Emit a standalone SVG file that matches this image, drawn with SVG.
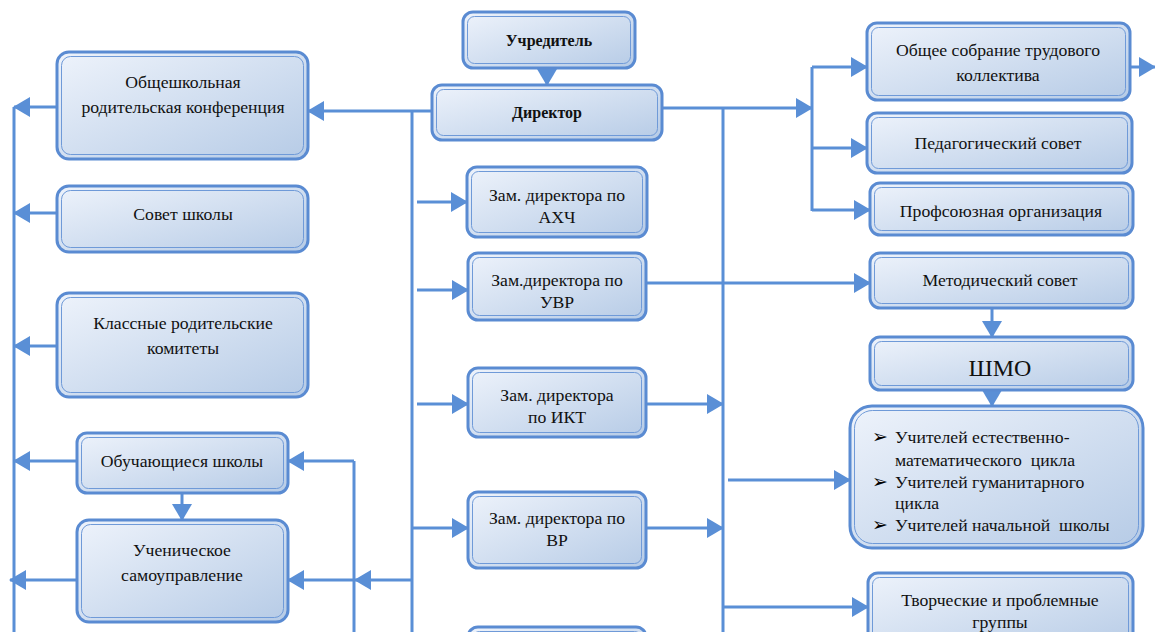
<svg xmlns="http://www.w3.org/2000/svg" width="1155" height="632" viewBox="0 0 1155 632">
<style>
.box{fill:url(#g);stroke:#5a8bd2;stroke-width:3}
.inner{fill:none;stroke:#6f9ad8;stroke-width:1}
.t{font-family:"Liberation Serif","Times New Roman",serif;font-size:17.7px;fill:#111;text-anchor:middle}
.b{font-weight:bold;font-size:16px}
.l{text-anchor:start}
.bu{font-family:"DejaVu Sans",sans-serif;font-size:19px;text-anchor:start;fill:#000}
.c{fill:none;stroke:#5a8fd6;stroke-width:3}
</style>
<defs>
<linearGradient id="g" x1="0" y1="0" x2="1" y2="1">
<stop offset="0" stop-color="#eef3fb"/>
<stop offset="1" stop-color="#b6cbe6"/>
</linearGradient>
<marker id="a" viewBox="0 0 17 20" refX="16" refY="10" markerWidth="17" markerHeight="20" markerUnits="userSpaceOnUse" orient="auto">
<path d="M0,0 L17,10 L0,20 z" fill="#5a8fd6"/>
</marker>
</defs>
<rect width="1155" height="632" fill="#fff"/>
<g id="connectors">
<path class="c" d="M547,68 V85" marker-end="url(#a)"/>
<path class="c" d="M432,111 H308" marker-end="url(#a)"/>
<path class="c" d="M412,111 V632"/>
<path class="c" d="M417,202 H467" marker-end="url(#a)"/>
<path class="c" d="M417,290 H468" marker-end="url(#a)"/>
<path class="c" d="M417,404 H468" marker-end="url(#a)"/>
<path class="c" d="M412,528 H468" marker-end="url(#a)"/>
<path class="c" d="M412,580 H355" marker-end="url(#a)"/>
<path class="c" d="M354,461 V632"/>
<path class="c" d="M354,461 H288" marker-end="url(#a)"/>
<path class="c" d="M354,580 H288" marker-end="url(#a)"/>
<path class="c" d="M182,493 V520" marker-end="url(#a)"/>
<path class="c" d="M14,107 V632"/>
<path class="c" d="M57,107 H14" marker-end="url(#a)"/>
<path class="c" d="M57,213 H14" marker-end="url(#a)"/>
<path class="c" d="M57,346 H14" marker-end="url(#a)"/>
<path class="c" d="M77,461 H14" marker-end="url(#a)"/>
<path class="c" d="M77,580 H10" marker-end="url(#a)"/>
<path class="c" d="M662,108 H812" marker-end="url(#a)"/>
<path class="c" d="M723,108 V632"/>
<path class="c" d="M812,67 V211"/>
<path class="c" d="M812,67 H867" marker-end="url(#a)"/>
<path class="c" d="M812,148 H867" marker-end="url(#a)"/>
<path class="c" d="M812,210 H870" marker-end="url(#a)"/>
<path class="c" d="M1130,67 H1155" marker-end="url(#a)"/>
<path class="c" d="M646,283 H870" marker-end="url(#a)"/>
<path class="c" d="M992,308 V337" marker-end="url(#a)"/>
<path class="c" d="M992,390 V406" marker-end="url(#a)"/>
<path class="c" d="M646,404 H723" marker-end="url(#a)"/>
<path class="c" d="M646,528 H723" marker-end="url(#a)"/>
<path class="c" d="M728,480 H850" marker-end="url(#a)"/>
<path class="c" d="M723,607 H868" marker-end="url(#a)"/>
</g>
<g id="n-uchreditel"><rect class="box" x="463" y="12" width="172" height="56" rx="10"/><rect class="inner" x="467.5" y="16.5" width="163" height="47" rx="7"/><text class="t b" x="549" y="46">Учредитель</text></g>
<g id="n-direktor"><rect class="box" x="432" y="85" width="230" height="55" rx="10"/><rect class="inner" x="436.5" y="89.5" width="221" height="46" rx="7"/><text class="t b" x="547" y="118">Директор</text></g>
<g id="n-conf"><rect class="box" x="57" y="52" width="251" height="107" rx="12"/><rect class="inner" x="61.5" y="56.5" width="242" height="98" rx="9"/><text class="t" x="183" y="88">Общешкольная</text><text class="t" x="183" y="113">родительская конференция</text></g>
<g id="n-sovet"><rect class="box" x="57" y="186" width="251" height="66" rx="12"/><rect class="inner" x="61.5" y="190.5" width="242" height="57" rx="9"/><text class="t" x="183" y="220">Совет школы</text></g>
<g id="n-komitety"><rect class="box" x="57" y="293" width="251" height="104" rx="12"/><rect class="inner" x="61.5" y="297.5" width="242" height="95" rx="9"/><text class="t" x="183" y="329">Классные родительские</text><text class="t" x="183" y="354">комитеты</text></g>
<g id="n-obuch"><rect class="box" x="77" y="433" width="211" height="60" rx="10"/><rect class="inner" x="81.5" y="437.5" width="202" height="51" rx="7"/><text class="t" x="182" y="467">Обучающиеся школы</text></g>
<g id="n-samoupr"><rect class="box" x="77" y="520" width="211" height="102" rx="12"/><rect class="inner" x="81.5" y="524.5" width="202" height="93" rx="9"/><text class="t" x="182" y="556">Ученическое</text><text class="t" x="182" y="581">самоуправление</text></g>
<g id="n-ahch"><rect class="box" x="467" y="167" width="180" height="70" rx="10"/><rect class="inner" x="471.5" y="171.5" width="171" height="61" rx="7"/><text class="t" x="557" y="201">Зам. директора по</text><text class="t" x="557" y="223">АХЧ</text></g>
<g id="n-uvr"><rect class="box" x="468" y="253" width="178" height="67" rx="10"/><rect class="inner" x="472.5" y="257.5" width="169" height="58" rx="7"/><text class="t" x="557" y="286">Зам.директора по</text><text class="t" x="557" y="308">УВР</text></g>
<g id="n-ikt"><rect class="box" x="468" y="368" width="178" height="69" rx="10"/><rect class="inner" x="472.5" y="372.5" width="169" height="60" rx="7"/><text class="t" x="557" y="401">Зам. директора</text><text class="t" x="557" y="423">по ИКТ</text></g>
<g id="n-vr"><rect class="box" x="468" y="492" width="178" height="76" rx="10"/><rect class="inner" x="472.5" y="496.5" width="169" height="67" rx="7"/><text class="t" x="557" y="524">Зам. директора по</text><text class="t" x="557" y="546">ВР</text></g>
<g id="n-bottom"><rect class="box" x="468" y="627" width="178" height="60" rx="10"/><rect class="inner" x="472.5" y="631.5" width="169" height="51" rx="7"/></g>
<g id="n-sobranie"><rect class="box" x="867" y="23" width="263" height="77" rx="10"/><rect class="inner" x="871.5" y="27.5" width="254" height="68" rx="7"/><text class="t" x="998" y="56">Общее собрание трудового</text><text class="t" x="998" y="81">коллектива</text></g>
<g id="n-pedsovet"><rect class="box" x="867" y="113" width="265" height="60" rx="10"/><rect class="inner" x="871.5" y="117.5" width="256" height="51" rx="7"/><text class="t" x="998" y="149">Педагогический совет</text></g>
<g id="n-profsoyuz"><rect class="box" x="870" y="183" width="263" height="52" rx="10"/><rect class="inner" x="874.5" y="187.5" width="254" height="43" rx="7"/><text class="t" x="1001" y="217">Профсоюзная организация</text></g>
<g id="n-metsovet"><rect class="box" x="870" y="253" width="263" height="55" rx="10"/><rect class="inner" x="874.5" y="257.5" width="254" height="46" rx="7"/><text class="t" x="1000" y="286">Методический совет</text></g>
<g id="n-shmo"><rect class="box" x="870" y="337" width="263" height="53" rx="10"/><rect class="inner" x="874.5" y="341.5" width="254" height="44" rx="7"/><text class="t" x="1000" y="376" style="font-size:24px">ШМО</text></g>
<g id="n-list"><rect class="box" x="850" y="406" width="293" height="142" rx="22"/><rect class="inner" x="854.5" y="410.5" width="284" height="133" rx="18"/>
<text class="t bu" x="872" y="443">➢</text><text class="t l" x="895" y="443">Учителей естественно-</text>
<text class="t l" x="895" y="466" xml:space="preserve">математического  цикла</text>
<text class="t bu" x="872" y="488">➢</text><text class="t l" x="895" y="488">Учителей гуманитарного</text>
<text class="t l" x="895" y="509">цикла</text>
<text class="t bu" x="872" y="531">➢</text><text class="t l" x="895" y="531" xml:space="preserve">Учителей начальной  школы</text></g>
<g id="n-tvorch"><rect class="box" x="868" y="573" width="265" height="80" rx="10"/><rect class="inner" x="872.5" y="577.5" width="256" height="71" rx="7"/><text class="t" x="1000" y="606">Творческие и проблемные</text><text class="t" x="1000" y="628">группы</text></g>
</svg>
